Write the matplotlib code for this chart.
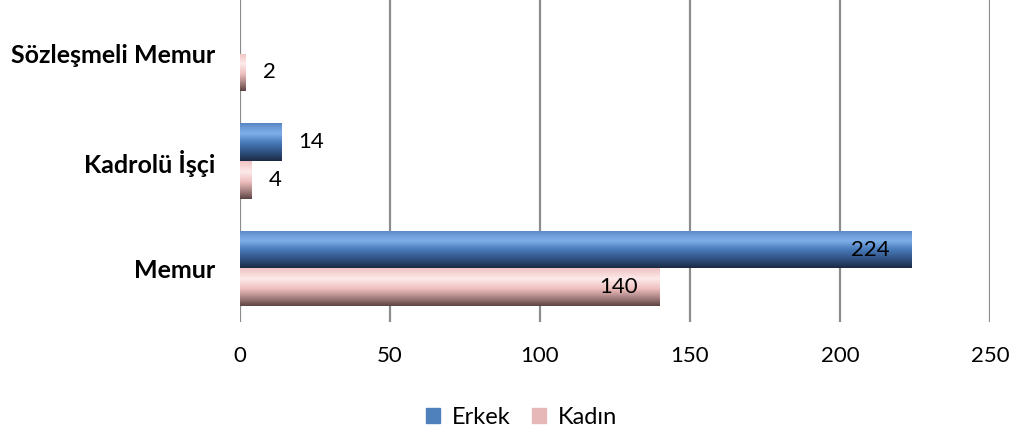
import numpy as np
import matplotlib.pyplot as plt
from matplotlib.colors import LinearSegmentedColormap
from matplotlib.patches import Patch

categories = ["Memur", "Kadrolü İşçi", "Sözleşmeli Memur"]
erkek = [224, 14, np.nan]
kadin = [140, 4, 2]
xticks = [0, 50, 100, 150, 200, 250]

plt.rcParams['font.family'] = ['Lato', 'DejaVu Sans']

# gradient colours, bottom -> top
blue_cm = LinearSegmentedColormap.from_list(
    "blue", [(0.0, "#1b2a42"), (0.2, "#2c4b78"), (0.5, "#4a7cbd"),
             (0.72, "#7eaee8"), (0.88, "#6d9bd8"), (1.0, "#5683c2")])
pink_cm = LinearSegmentedColormap.from_list(
    "pink", [(0.0, "#5b4242"), (0.18, "#9c7777"), (0.45, "#eebebe"),
             (0.72, "#fdeaea"), (0.88, "#f6d3d3"), (1.0, "#efc2c2")])

fig = plt.figure(figsize=(10.11, 4.34), dpi=100)
ax = fig.add_axes([0.2374, 0.258, 0.7418, 0.742])

y = np.arange(len(categories))
h = 0.35
grad = np.linspace(0, 1, 256).reshape(-1, 1)


def shaded_bars(vals, offset, cmap):
    bars = ax.barh(y + offset, np.nan_to_num(vals), height=h, color="none",
                   edgecolor="none", zorder=3)
    for b, v in zip(bars, vals):
        if np.isnan(v) or v == 0:
            continue
        x0, y0 = b.get_x(), b.get_y()
        im = ax.imshow(grad, cmap=cmap, aspect="auto", origin="lower",
                       extent=[x0, x0 + b.get_width(), y0, y0 + b.get_height()],
                       zorder=3)
        im.set_clip_path(b)
    return bars


shaded_bars(erkek, h / 2, blue_cm)
shaded_bars(kadin, -h / 2, pink_cm)

# value labels
for vals, offset in [(erkek, h / 2), (kadin, -h / 2)]:
    for yi, v in zip(y, vals):
        if np.isnan(v):
            continue
        if v > 100:
            ax.annotate(f"{v:g}", (v, yi + offset), xytext=(-16, 0),
                        textcoords="offset points", ha="right", va="center",
                        fontsize=16, zorder=5)
        else:
            ax.annotate(f"{v:g}", (v, yi + offset), xytext=(12, 0),
                        textcoords="offset points", ha="left", va="center",
                        fontsize=16, zorder=5)

ax.set_xlim(0, 250)
ax.set_ylim(-0.5, 2.5)
ax.set_xticks(xticks)
ax.set_yticks(y)
ax.set_yticklabels(categories, fontweight="bold", fontsize=18)
ax.tick_params(axis="x", labelsize=16, length=0, pad=17)
ax.tick_params(axis="y", length=0, pad=18)
ax.grid(axis="x", color="#8c8c8c", linewidth=1.6, zorder=0)
ax.set_axisbelow(True)
for s in ax.spines.values():
    s.set_visible(False)

handles = [Patch(color="#4f81bd", label="Erkek"),
           Patch(color="#e6b9b8", label="Kadın")]
fig.legend(handles=handles, loc="center", bbox_to_anchor=(0.516, 0.038), ncol=2,
           frameon=False, fontsize=17, handlelength=0.6, handleheight=0.6,
           handletextpad=0.5, columnspacing=0.9)

fig.savefig("out.png", dpi=100)
